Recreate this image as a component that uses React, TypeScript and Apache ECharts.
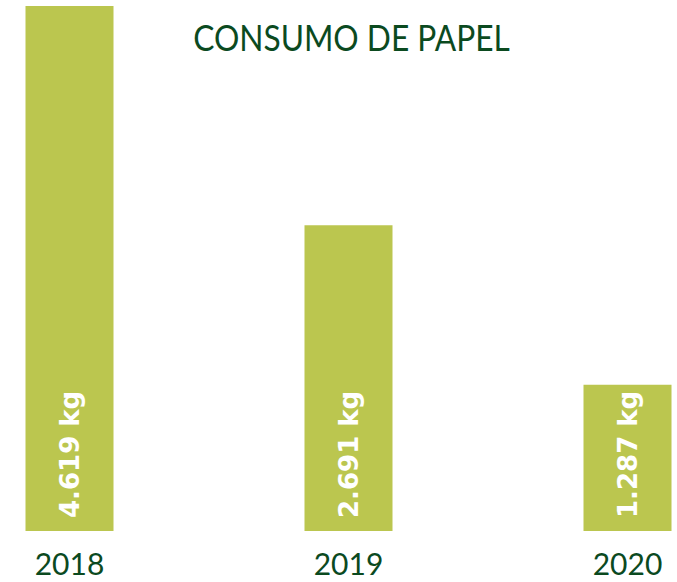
import React, { useEffect, useRef } from "react";
import * as echarts from "echarts";

const categories = ["2018", "2019", "2020"];
const values = [4619, 2691, 1287];
const valueLabels = ["4.619 kg", "2.691 kg", "1.287 kg"];
const titleText = "CONSUMO DE PAPEL";

const OFFSET = 70.5;
const INNER_W = 837;

export default function App() {
  const ref = useRef<HTMLDivElement>(null);
  useEffect(() => {
    document.body.style.margin = "0";
    const chart = echarts.init(ref.current!, null, { renderer: "svg" });
    chart.setOption({
      animation: false,
      backgroundColor: "#ffffff",
      grid: { left: 0, right: 0, top: 6, bottom: 51, containLabel: false },
      graphic: [
        {
          type: "text",
          x: 351 + OFFSET,
          y: 37,
          scaleX: 0.88,
          style: {
            text: titleText,
            fontFamily: "Lato",
            fontSize: 36,
            fill: "#0b4a1f",
            textAlign: "center",
            textVerticalAlign: "middle",
          },
        },
      ],
      xAxis: {
        type: "category",
        data: categories,
        axisLine: { show: false },
        axisTick: { show: false },
        axisLabel: {
          margin: 17,
          fontFamily: "Lato",
          fontSize: 30,
          color: "#0b4a1f",
        },
      },
      yAxis: {
        type: "value",
        min: 0,
        max: "dataMax",
        show: false,
        splitLine: { show: false },
      },
      series: [
        {
          type: "bar",
          data: values,
          barWidth: 88,
          itemStyle: { color: "#bbc64f" },
          label: {
            show: true,
            position: "insideBottom",
            rotate: 90,
            align: "left",
            verticalAlign: "middle",
            distance: 13,
            fontFamily: "DejaVu Sans",
            fontWeight: "bold",
            fontSize: 26,
            color: "#ffffff",
            formatter: (p: any) => valueLabels[p.dataIndex],
          },
        },
      ],
    });
    return () => chart.dispose();
  }, []);
  return (
    <div style={{ width: 677, height: 582, overflow: "hidden", position: "relative" }}>
      <div
        ref={ref}
        style={{ position: "absolute", left: -OFFSET, top: 0, width: INNER_W, height: 582 }}
      />
    </div>
  );
}
